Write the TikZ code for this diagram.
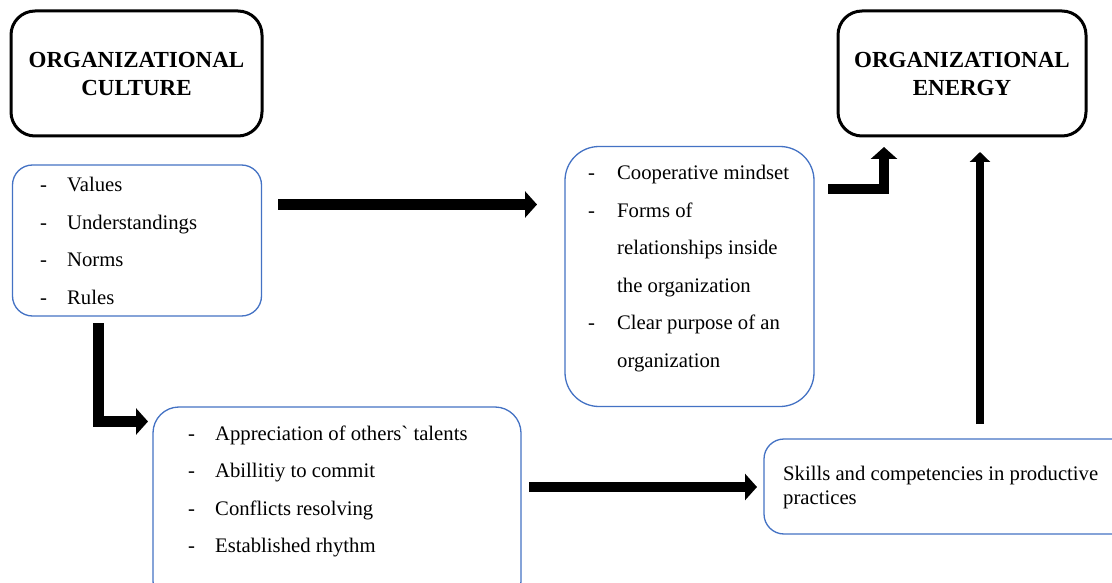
\documentclass[tikz,border=0pt]{standalone}
\usepackage{fontspec}
\setmainfont{Liberation Serif}
\usetikzlibrary{arrows.meta,positioning}
\definecolor{boxblue}{RGB}{68,114,196}

\tikzset{
  headbox/.style={draw, line width=3pt, rounded corners=24pt, align=center,
    font=\fontsize{23}{28}\selectfont\bfseries},
  listbox/.style={draw=boxblue, line width=1.3pt},
  listtext/.style={anchor=base west, inner sep=0pt, font=\fontsize{20.7}{37.5}\selectfont},
  fat/.style={line width=10.5pt, -{Triangle[length=12pt,width=26pt]}},
  slim/.style={line width=8.5pt, -{Triangle[length=10pt,width=20pt]}},
}

\begin{document}
\begin{tikzpicture}[x=1pt,y=-1pt]
  \path[use as bounding box, fill=white] (0,0) rectangle (1112,583);
  \clip (0,0) rectangle (1112,583);

  % headers
  \node[headbox, minimum width=251pt, minimum height=125pt] (culture) at (136.5,73.5) {ORGANIZATIONAL\\CULTURE};
  \node[headbox, minimum width=248pt, minimum height=125pt] (energy) at (962,73.5) {ORGANIZATIONAL\\ENERGY};

  % boxes
  \node[listbox, rounded corners=20pt, minimum width=249pt, minimum height=151pt] (cultitems) at (137,240.5) {};
  \node[listbox, rounded corners=34pt, minimum width=249pt, minimum height=260pt] (mindset) at (689.5,276.5) {};
  \node[listbox, rounded corners=26pt, minimum width=368pt, minimum height=200pt] (talents) at (337,507) {};
  \node[listbox, rounded corners=20pt, minimum width=370pt, minimum height=95pt] (skills) at (949,486.5) {};

  % texts
  \node[listtext] (cultlist) at (40,192) {\begin{tabular}[t]{@{}p{27pt}@{}l@{}}
    - & Values\\
    - & Understandings\\
    - & Norms\\
    - & Rules
  \end{tabular}};
  \node[listtext] (mindlist) at (588,180) {\begin{tabular}[t]{@{}p{29pt}@{}l@{}}
    - & Cooperative mindset\\
    - & Forms of\\
      & relationships inside\\
      & the organization\\
    - & Clear purpose of an\\
      & organization
  \end{tabular}};
  \node[listtext] (talentlist) at (188,440) {\begin{tabular}[t]{@{}p{27pt}@{}l@{}}
    - & Appreciation of others\textasciigrave{} talents\\
    - & Abillitiy to commit\\
    - & Conflicts resolving\\
    - & Established rhythm
  \end{tabular}};
  \node[listtext, font=\fontsize{20.7}{24}\selectfont] (skilltext) at (783,480) {\begin{tabular}[t]{@{}l@{}}
    Skills and competencies in productive\\
    practices
  \end{tabular}};

  % arrow ends
  \coordinate (a1from) at (278,204.5);
  \coordinate (a1to) at (537,204.5);
  \coordinate (a2from) at (98.5,323);
  \coordinate (a2to) at (148,421.5);
  \coordinate (a3from) at (529,487);
  \coordinate (a3to) at (757,487);
  \coordinate (a4from) at (980,424);
  \coordinate (a4to) at (980,152);
  \coordinate (a5from) at (828,189);
  \coordinate (a5to) at (884,147);

  \draw[fat] (a1from) -- (a1to);
  \draw[fat] (a2from) |- (a2to);
  \draw[fat] (a3from) -- (a3to);
  \draw[slim] (a4from) -- (a4to);
  \draw[fat] (a5from) -| (a5to);
\end{tikzpicture}
\end{document}
